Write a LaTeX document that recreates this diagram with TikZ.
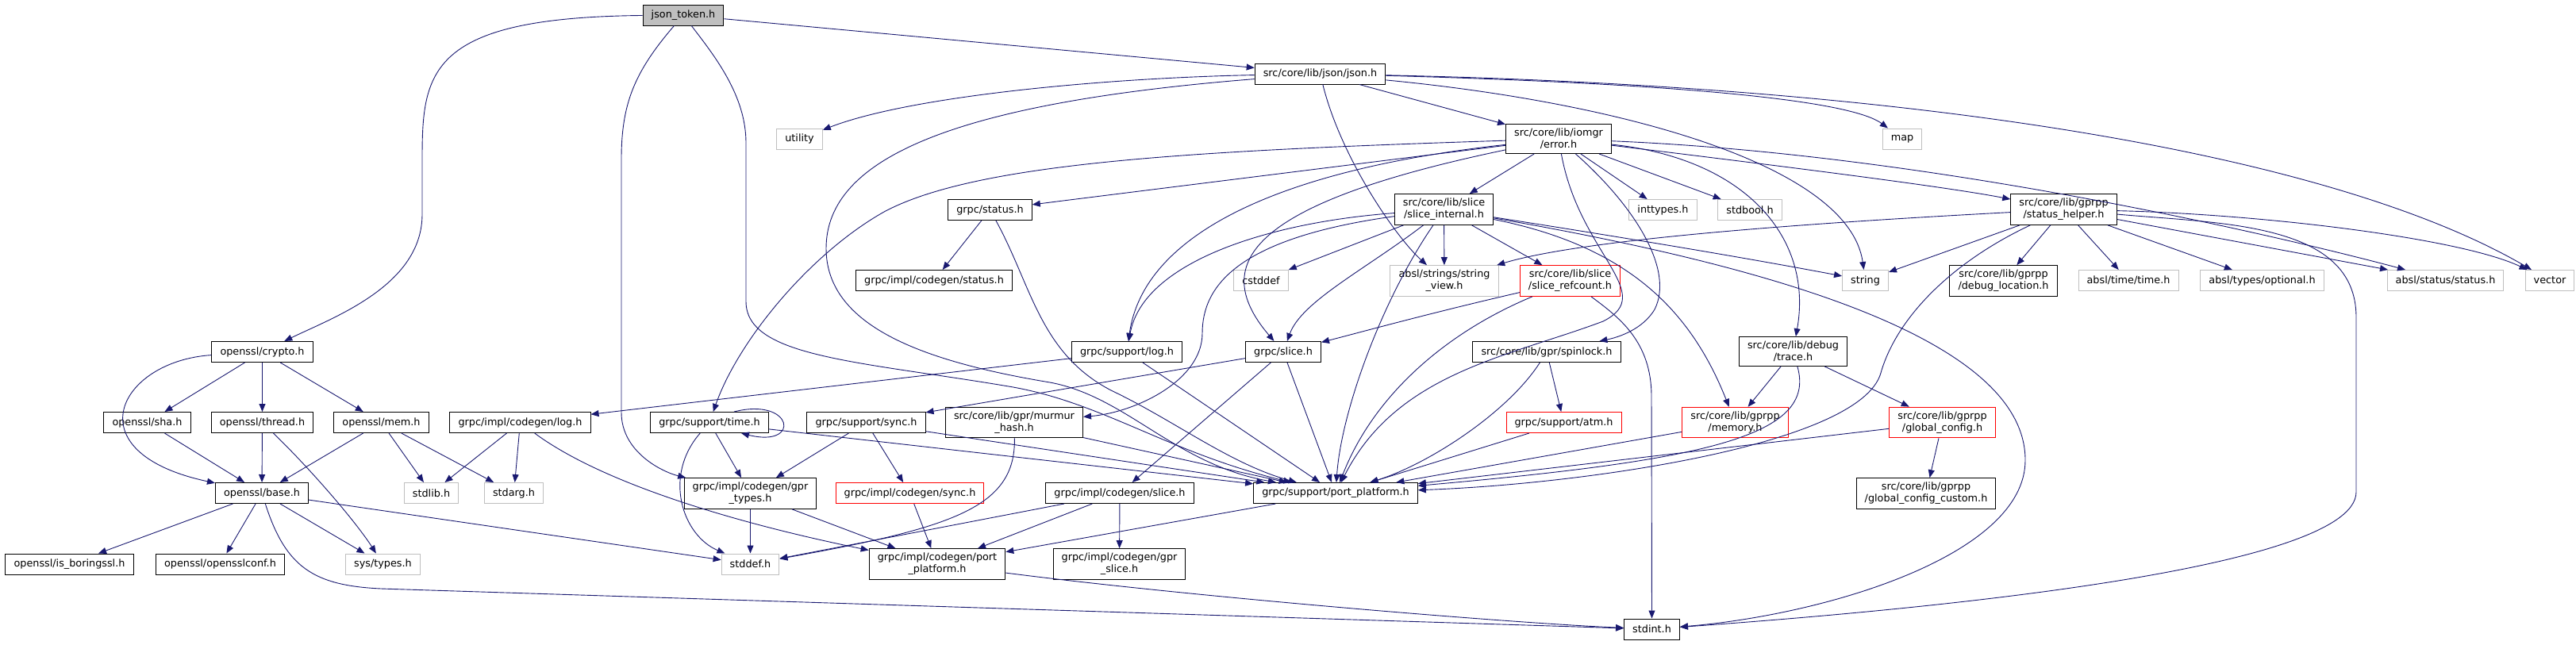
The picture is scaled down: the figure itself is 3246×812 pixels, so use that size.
\documentclass[tikz,border=0pt]{standalone}
\usepackage{fontspec}
\setmainfont{DejaVu Sans}
\usepackage{tikz}
\usetikzlibrary{arrows.meta}
\definecolor{edgeblue}{HTML}{191970}
\definecolor{rootgray}{HTML}{BFBFBF}
\tikzset{
  file/.style={draw=black, line width=1pt, fill=white, align=center, inner xsep=10.6pt, inner ysep=5.5pt, minimum height=26pt, font=\fontsize{12.8}{15}\selectfont},
  sysfile/.style={file, draw=rootgray},
  redfile/.style={file, draw=red},
  rootfile/.style={file, fill=rootgray},
  dep/.style={draw=edgeblue, line width=0.9pt, -{Triangle[length=10pt,width=8pt]}}
}

\begin{document}
\begin{tikzpicture}[x=1pt,y=-1pt]
			%%%%% START %%%%%
			\useasboundingbox (0,0) rectangle (3246,812);

			\node[rootfile] (jsontoken) at (861,19) {json\_token.h};
			\node[file] (json) at (1663.5,93) {src/core/lib/json/json.h};
			\node[sysfile] (utility) at (1007.5,175) {utility};
			\node[file] (error) at (1964,175) {src/core/lib/iomgr\\/error.h};
			\node[sysfile] (map) at (2397,175) {map};

			\node[file] (status) at (1247.5,264.5) {grpc/status.h};
			\node[file] (sliceinternal) at (1819.5,264) {src/core/lib/slice\\/slice\_internal.h};
			\node[sysfile] (inttypes) at (2095.5,264.5) {inttypes.h};
			\node[sysfile] (stdbool) at (2205,264.5) {stdbool.h};
			\node[file] (statushelper) at (2600.5,264) {src/core/lib/gprpp\\/status\_helper.h};

			\node[file] (cgstatus) at (1177,353.5) {grpc/impl/codegen/status.h};
			\node[sysfile] (cstddef) at (1589,353.5) {cstddef};
			\node[sysfile] (stringview) at (1820,354) {absl/strings/string\\\_view.h};
			\node[redfile] (slicerefcount) at (1978.5,354) {src/core/lib/slice\\/slice\_refcount.h};
			\node[sysfile] (string) at (2350.5,353.5) {string};
			\node[file] (debuglocation) at (2524.5,354) {src/core/lib/gprpp\\/debug\_location.h};
			\node[sysfile] (abseiltime) at (2682,353.5) {absl/time/time.h};
			\node[sysfile] (optional) at (2850.5,353.5) {absl/types/optional.h};
			\node[sysfile] (abslstatus) at (3081.5,353.5) {absl/status/status.h};
			\node[sysfile] (vector) at (3213,353.5) {vector};

			\node[file] (crypto) at (330.5,443.5) {openssl/crypto.h};
			\node[file] (supportlog) at (1420,443.5) {grpc/support/log.h};
			\node[file] (slice) at (1617,443.5) {grpc/slice.h};
			\node[file] (spinlock) at (1949,443.5) {src/core/lib/gpr/spinlock.h};
			\node[file] (trace) at (2259.5,443) {src/core/lib/debug\\/trace.h};

			\node[file] (sha) at (185.5,532.5) {openssl/sha.h};
			\node[file] (thread) at (330.5,532.5) {openssl/thread.h};
			\node[file] (mem) at (480.5,532.5) {openssl/mem.h};
			\node[file] (codegenlog) at (655.5,532.5) {grpc/impl/codegen/log.h};
			\node[file] (supporttime) at (894,532.5) {grpc/support/time.h};
			\node[file] (supportsync) at (1091.5,532.5) {grpc/support/sync.h};
			\node[file] (murmur) at (1278,532.5) {src/core/lib/gpr/murmur\\\_hash.h};
			\node[redfile] (atm) at (1970.5,532.5) {grpc/support/atm.h};
			\node[redfile] (memory) at (2186.5,532.5) {src/core/lib/gprpp\\/memory.h};
			\node[redfile] (globalconfig) at (2447.5,532.5) {src/core/lib/gprpp\\/global\_config.h};

			\node[file] (base) at (330,621.5) {openssl/base.h};
			\node[sysfile] (stdlib) at (543.5,621.5) {stdlib.h};
			\node[sysfile] (stdarg) at (647.5,621.5) {stdarg.h};
			\node[file] (gprtypes) at (945.5,622) {grpc/impl/codegen/gpr\\\_types.h};
			\node[redfile] (codegensync) at (1146.5,621.5) {grpc/impl/codegen/sync.h};
			\node[file] (codegenslice) at (1411,621.5) {grpc/impl/codegen/slice.h};
			\node[file] (portplatform) at (1683,621.5) {grpc/support/port\_platform.h};
			\node[file] (configcustom) at (2427,622) {src/core/lib/gprpp\\/global\_config\_custom.h};

			\node[file] (boringssl) at (87.5,711) {openssl/is\_boringssl.h};
			\node[file] (opensslconf) at (277.5,711) {openssl/opensslconf.h};
			\node[sysfile] (systypes) at (482.5,711) {sys/types.h};
			\node[sysfile] (stddef) at (945.5,711) {stddef.h};
			\node[file] (codegenport) at (1181,711) {grpc/impl/codegen/port\\\_platform.h};
			\node[file] (gprslice) at (1410.5,711) {grpc/impl/codegen/gpr\\\_slice.h};
			\node[file] (stdint) at (2081.5,793) {stdint.h};

			% json_token.h
			\draw[dep] (jsontoken) .. controls (540,22) and (532,90) .. (532,200) -- (532,270) .. controls (532,360) and (420,400) .. (crypto);
			\draw[dep] (jsontoken) -- (json);
			\draw[dep] (jsontoken) .. controls (800,90) and (783,130) .. (783,200) -- (783,520) .. controls (783,570) and (835,595) .. (gprtypes);
			\draw[dep] (jsontoken) .. controls (900,70) and (940,120) .. (940,180) -- (940,380) .. controls (940,450) and (1080,455) .. (1271,487) .. controls (1390,507) and (1470,570) .. (portplatform);

			% json.h
			\draw[dep] (json) .. controls (1400,98) and (1150,120) .. (utility);
			\draw[dep] (json) .. controls (1200,130) and (1041,200) .. (1041,313) .. controls (1041,410) and (1160,455) .. (1323,482) .. controls (1420,500) and (1480,585) .. (portplatform);
			\draw[dep] (json) -- (error);
			\draw[dep] (json) .. controls (1690,200) and (1760,300) .. (stringview);
			\draw[dep] (json) .. controls (2050,130) and (2330,210) .. (string);
			\draw[dep] (json) .. controls (2100,105) and (2330,125) .. (map);
			\draw[dep] (json) .. controls (2450,110) and (2950,200) .. (vector);

			% error.h
			\draw[dep] (error) -- (status);
			\draw[dep] (error) .. controls (1500,190) and (1230,205) .. (1114,267) .. controls (1020,320) and (930,430) .. (supporttime);
			\draw[dep] (error) .. controls (1600,215) and (1440,300) .. (supportlog);
			\draw[dep] (error) .. controls (1580,255) and (1520,330) .. (slice);
			\draw[dep] (error) -- (sliceinternal);
			\draw[dep] (error) .. controls (1990,320) and (2090,370) .. (2020,405) .. controls (1900,450) and (1760,470) .. (portplatform);
			\draw[dep] (error) .. controls (2060,260) and (2110,340) .. (2085,390) .. controls (2070,415) and (2040,425) .. (spinlock);
			\draw[dep] (error) -- (inttypes);
			\draw[dep] (error) -- (stdbool);
			\draw[dep] (error) .. controls (2200,200) and (2285,300) .. (trace);
			\draw[dep] (error) .. controls (2250,210) and (2450,235) .. (statushelper);
			\draw[dep] (error) .. controls (2450,195) and (2900,305) .. (abslstatus);

			% slice_internal.h
			\draw[dep] (sliceinternal) .. controls (1600,280) and (1440,330) .. (supportlog);
			\draw[dep] (sliceinternal) .. controls (1560,300) and (1515,360) .. (1515,420) .. controls (1515,480) and (1430,520) .. (murmur);
			\draw[dep] (sliceinternal) .. controls (1720,340) and (1640,380) .. (slice);
			\draw[dep] (sliceinternal) -- (cstddef);
			\draw[dep] (sliceinternal) -- (stringview);
			\draw[dep] (sliceinternal) -- (slicerefcount);
			\draw[dep] (sliceinternal) .. controls (2050,300) and (2200,325) .. (string);
			\draw[dep] (sliceinternal) .. controls (2050,310) and (2130,390) .. (memory);
			\draw[dep] (sliceinternal) .. controls (2200,330) and (2552,420) .. (2552,580) .. controls (2552,700) and (2300,775) .. (stdint);
			\draw[dep] (sliceinternal) .. controls (1740,380) and (1690,520) .. (portplatform);

			% slice_refcount.h
			\draw[dep] (slicerefcount) .. controls (1800,395) and (1710,420) .. (slice);
			\draw[dep] (slicerefcount) .. controls (1820,420) and (1730,500) .. (portplatform);
			\draw[dep] (slicerefcount) .. controls (2040,400) and (2081,430) .. (2081,500) -- (stdint);

			% grpc headers
			\draw[dep] (status) -- (cgstatus);
			\draw[dep] (status) .. controls (1300,360) and (1310,445) .. (1400,492) .. controls (1480,530) and (1550,585) .. (portplatform);
			\draw[dep] (supportlog) -- (codegenlog);
			\draw[dep] (supportlog) -- (portplatform);
			\draw[dep] (slice) -- (supportsync);
			\draw[dep] (slice) -- (codegenslice);
			\draw[dep] (slice) -- (portplatform);

			% spinlock.h, trace.h
			\draw[dep] (spinlock) -- (atm);
			\draw[dep] (spinlock) .. controls (1900,520) and (1800,585) .. (portplatform);
			\draw[dep] (trace) -- (memory);
			\draw[dep] (trace) -- (globalconfig);
			\draw[dep] (trace) .. controls (2290,550) and (2150,580) .. (portplatform);

			% status_helper.h
			\draw[dep] (statushelper) -- (debuglocation);
			\draw[dep] (statushelper) -- (abseiltime);
			\draw[dep] (statushelper) -- (optional);
			\draw[dep] (statushelper) -- (abslstatus);
			\draw[dep] (statushelper) .. controls (2850,270) and (3100,300) .. (vector);
			\draw[dep] (statushelper) .. controls (2300,280) and (2000,300) .. (stringview);
			\draw[dep] (statushelper) -- (string);
			\draw[dep] (statushelper) .. controls (2460,330) and (2390,400) .. (2370,470) .. controls (2345,560) and (2000,610) .. (portplatform);
			\draw[dep] (statushelper) .. controls (2800,282) and (2969,280) .. (2969,400) -- (2969,620) .. controls (2969,720) and (2400,770) .. (stdint);

			\draw[dep] (memory) -- (portplatform);
			\draw[dep] (atm) -- (portplatform);
			\draw[dep] (globalconfig) -- (portplatform);
			\draw[dep] (globalconfig) -- (configcustom);

			% support/sync.h, support/time.h, murmur_hash.h
			\draw[dep] (supportsync) -- (gprtypes);
			\draw[dep] (supportsync) -- (codegensync);
			\draw[dep] (supportsync) -- (portplatform);
			\draw[dep] (supporttime) -- (gprtypes);
			\draw[dep] (supporttime) .. controls (835,600) and (860,675) .. (stddef);
			\draw[dep] (supporttime) -- (portplatform);
			\draw[dep] ([xshift=31pt]supporttime.north) .. controls (1000,500) and (1010,565) .. ([xshift=40pt]supporttime.south);
			\draw[dep] (murmur) .. controls (1280,640) and (1200,665) .. (stddef);
			\draw[dep] (murmur) -- (portplatform);

			% codegen
			\draw[dep] (gprtypes) -- (stddef);
			\draw[dep] (gprtypes) -- (codegenport);
			\draw[dep] (codegensync) -- (codegenport);
			\draw[dep] (codegenslice) -- (stddef);
			\draw[dep] (codegenslice) -- (codegenport);
			\draw[dep] (codegenslice) -- (gprslice);
			\draw[dep] (portplatform) -- (codegenport);
			\draw[dep] (codegenport) .. controls (1500,752) and (1900,785) .. (stdint);
			\draw[dep] (codegenlog) -- (stdlib);
			\draw[dep] (codegenlog) -- (stdarg);
			\draw[dep] (codegenlog) .. controls (760,610) and (930,660) .. (codegenport);

			% openssl
			\draw[dep] (crypto) .. controls (150,455) and (90,570) .. (base);
			\draw[dep] (crypto) -- (sha);
			\draw[dep] (crypto) -- (thread);
			\draw[dep] (crypto) -- (mem);
			\draw[dep] (sha) -- (base);
			\draw[dep] (thread) -- (base);
			\draw[dep] (thread) .. controls (395,595) and (450,660) .. (systypes);
			\draw[dep] (mem) -- (base);
			\draw[dep] (mem) -- (stdlib);
			\draw[dep] (mem) -- (stdarg);
			\draw[dep] (base) -- (boringssl);
			\draw[dep] (base) -- (opensslconf);
			\draw[dep] (base) -- (systypes);
			\draw[dep] (base) -- (stddef);
			\draw[dep] (base) .. controls (360,715) and (395,738) .. (480,742) -- (stdint);

			%%%%% END %%%%%
\end{tikzpicture}
\end{document}
